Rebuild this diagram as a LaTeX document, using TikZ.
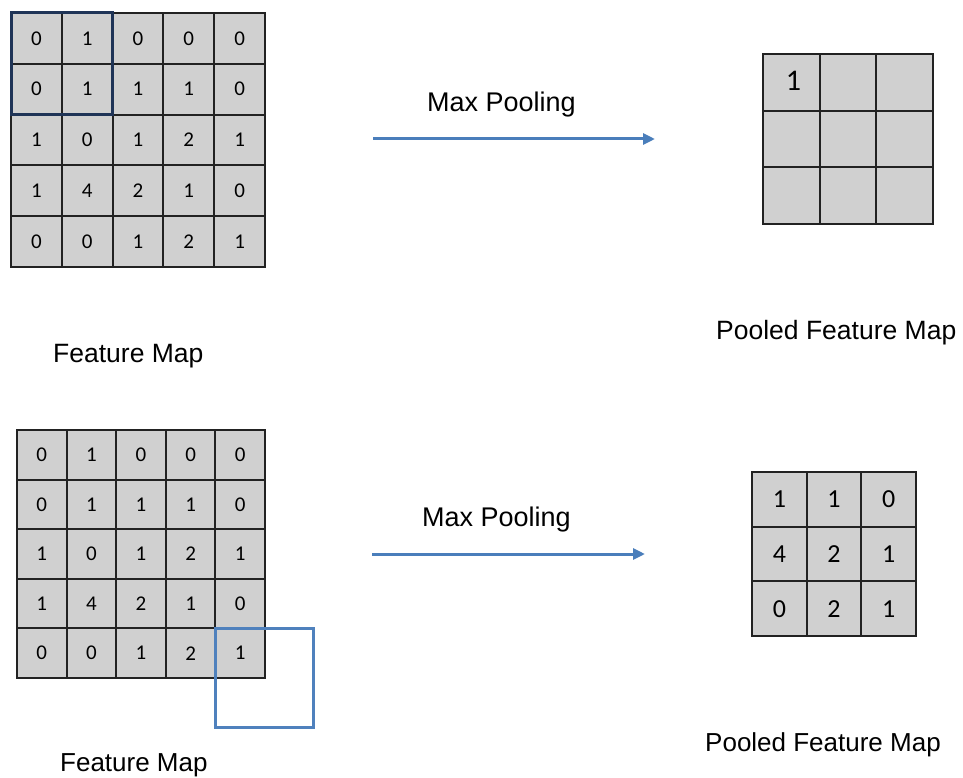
\documentclass[tikz,border=0pt]{standalone}
\usepackage{fontspec}
\setmainfont{Liberation Sans}
\newfontfamily\numfont{Carlito}
\usetikzlibrary{arrows.meta}
\definecolor{cellgray}{HTML}{D0D0D0}
\definecolor{gridline}{HTML}{222222}
\definecolor{navybox}{HTML}{1F3457}
\definecolor{steelblue}{HTML}{4F81BD}
\definecolor{arrowblue}{HTML}{4A7EBB}
\tikzset{
  cell/.style={draw=gridline, fill=cellgray, line width=2pt, minimum width=#1, minimum height=#1, inner sep=0pt, outer sep=0pt, anchor=north west},
  lbl/.style={anchor=base west, inner sep=0pt, font=\fontsize{26.5}{30}\selectfont},
  poolarrow/.style={draw=arrowblue, line width=3pt, -{Triangle[length=12pt,width=11pt]}},
}
\begin{document}
\begin{tikzpicture}[x=1pt,y=-1pt]
\useasboundingbox (0,0) rectangle (963,778);
% top-left feature map
\foreach \row [count=\r from 0] in {{0,1,0,0,0},{0,1,1,1,0},{1,0,1,2,1},{1,4,2,1,0},{0,0,1,2,1}}{
  \foreach \v [count=\c from 0] in \row {
    \node[cell=50.8pt, font=\numfont\fontsize{21}{25}\selectfont] (a-\r-\c) at ({11+50.8*\c},{13+50.8*\r}) {\v};
  }
}
\draw[navybox, line width=3pt] (a-0-0.north west) rectangle (a-1-1.south east);
% top-right pooled map
\foreach \r in {0,1,2}{
  \foreach \c in {0,1,2}{
    \node[cell=56.7pt] (b-\r-\c) at ({763+56.7*\c},{54+56.7*\r}) {};
  }
}
\node[font=\numfont\fontsize{30}{34}\selectfont, inner sep=0pt] (b1) at ([xshift=2pt,yshift=2pt]b-0-0.center) {1};
% bottom-left feature map
\foreach \row [count=\r from 0] in {{0,1,0,0,0},{0,1,1,1,0},{1,0,1,2,1},{1,4,2,1,0},{0,0,1,2,1}}{
  \foreach \v [count=\c from 0] in \row {
    \node[cell=49.6pt, font=\numfont\fontsize{21}{25}\selectfont] (c-\r-\c) at ({17+49.6*\c},{430+49.6*\r}) {\v};
  }
}
\coordinate (wincorner) at (313,727);
\draw[steelblue, line width=3pt] (c-4-4.north west) rectangle (wincorner);
% bottom-right pooled map
\foreach \row [count=\r from 0] in {{1,1,0},{4,2,1},{0,2,1}}{
  \foreach \v [count=\c from 0] in \row {
    \node[cell=54.7pt, font=\numfont\fontsize{26}{30}\selectfont] (d-\r-\c) at ({752+54.7*\c},{472+54.7*\r}) {\v};
  }
}
% arrows and labels
\coordinate (t1s) at (373,139);
\coordinate (t1e) at (655,139);
\draw[poolarrow] (t1s) -- (t1e);
\node[lbl, font=\fontsize{27}{30}\selectfont] (mp1) at (427,112) {Max Pooling};
\coordinate (t2s) at (372,554);
\coordinate (t2e) at (645,554);
\draw[poolarrow] (t2s) -- (t2e);
\node[lbl, font=\fontsize{27}{30}\selectfont] (mp2) at (422,526) {Max Pooling};
\node[lbl] (fm1) at (53,362) {Feature Map};
\node[lbl] (pf1) at (716,339) {Pooled Feature Map};
\node[lbl, font=\fontsize{26}{30}\selectfont] (fm2) at (60,771) {Feature Map};
\node[lbl, font=\fontsize{26}{30}\selectfont] (pf2) at (705,751) {Pooled Feature Map};
\end{tikzpicture}
\end{document}
